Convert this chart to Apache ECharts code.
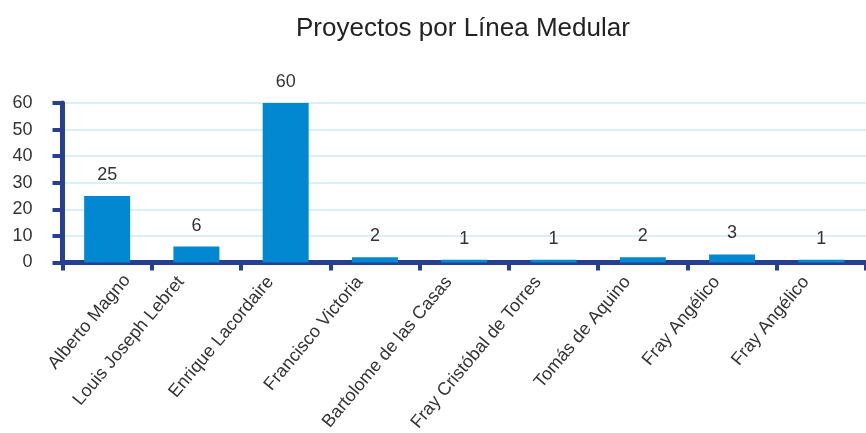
<!DOCTYPE html>
<html>
<head>
<meta charset="utf-8">
<script src="https://cdn.jsdelivr.net/npm/echarts@6/dist/echarts.min.js"></script>
<style>html,body{margin:0;padding:0;background:#fff}#c{width:866px;height:433px}</style>
</head>
<body>
<div id="c"></div>
<script>
const titleText = 'Proyectos por Línea Medular';
const categories = ['Alberto Magno', 'Louis Joseph Lebret', 'Enrique Lacordaire', 'Francisco Victoria', 'Bartolome de las Casas', 'Fray Cristóbal de Torres', 'Tomás de Aquino', 'Fray Angélico', 'Fray Angélico'];
const values = [25, 6, 60, 2, 1, 1, 2, 3, 1];
const yTicks = [0, 10, 20, 30, 40, 50, 60];

const font = '"Liberation Sans", Arial, Helvetica, sans-serif';
const axisBlue = '#273f8f';
const chart = echarts.init(document.getElementById('c'));
chart.setOption({
  animation: false,
  title: {
    text: titleText,
    left: 291, top: 11,
    textStyle: { fontFamily: font, fontSize: 26, fontWeight: 'normal', color: '#222' }
  },
  grid: { left: 62.5, right: 0, top: 103, bottom: 170.5, containLabel: false, outerBoundsMode: 'none' },
  xAxis: {
    type: 'category',
    data: categories,
    axisLine: { lineStyle: { color: axisBlue, width: 5 } },
    axisTick: { show: true, length: 8, lineStyle: { color: axisBlue, width: 4 }, alignWithLabel: false },
    axisLabel: {
      interval: 0, rotate: 50, margin: -2,
      fontFamily: font, fontSize: 18, color: '#333',
      formatter: (v, i) => (i === 0 ? '{f|' : '{n|') + v + '}',
      rich: {
        n: { fontFamily: font, fontSize: 18, color: '#333', padding: [0, 24, 0, 0] },
        f: { fontFamily: font, fontSize: 18, color: '#333', padding: [52, 0, 0, 0] }
      }
    }
  },
  yAxis: {
    type: 'value',
    min: yTicks[0], max: yTicks[yTicks.length - 1], interval: 10,
    axisLine: { show: true, lineStyle: { color: axisBlue, width: 5 } },
    axisTick: { show: true, length: 10, lineStyle: { color: axisBlue, width: 4 } },
    axisLabel: { margin: 30, fontFamily: font, fontSize: 18, color: '#333' },
    splitLine: { show: true, lineStyle: { color: '#dcEEfa', width: 2 } }
  },
  series: [{
    type: 'bar',
    data: values,
    barWidth: 46,
    itemStyle: { color: '#0288d1' },
    label: {
      show: true, position: 'top', distance: 12,
      fontFamily: font, fontSize: 18, color: '#333'
    }
  }]
});
</script>
</body>
</html>
